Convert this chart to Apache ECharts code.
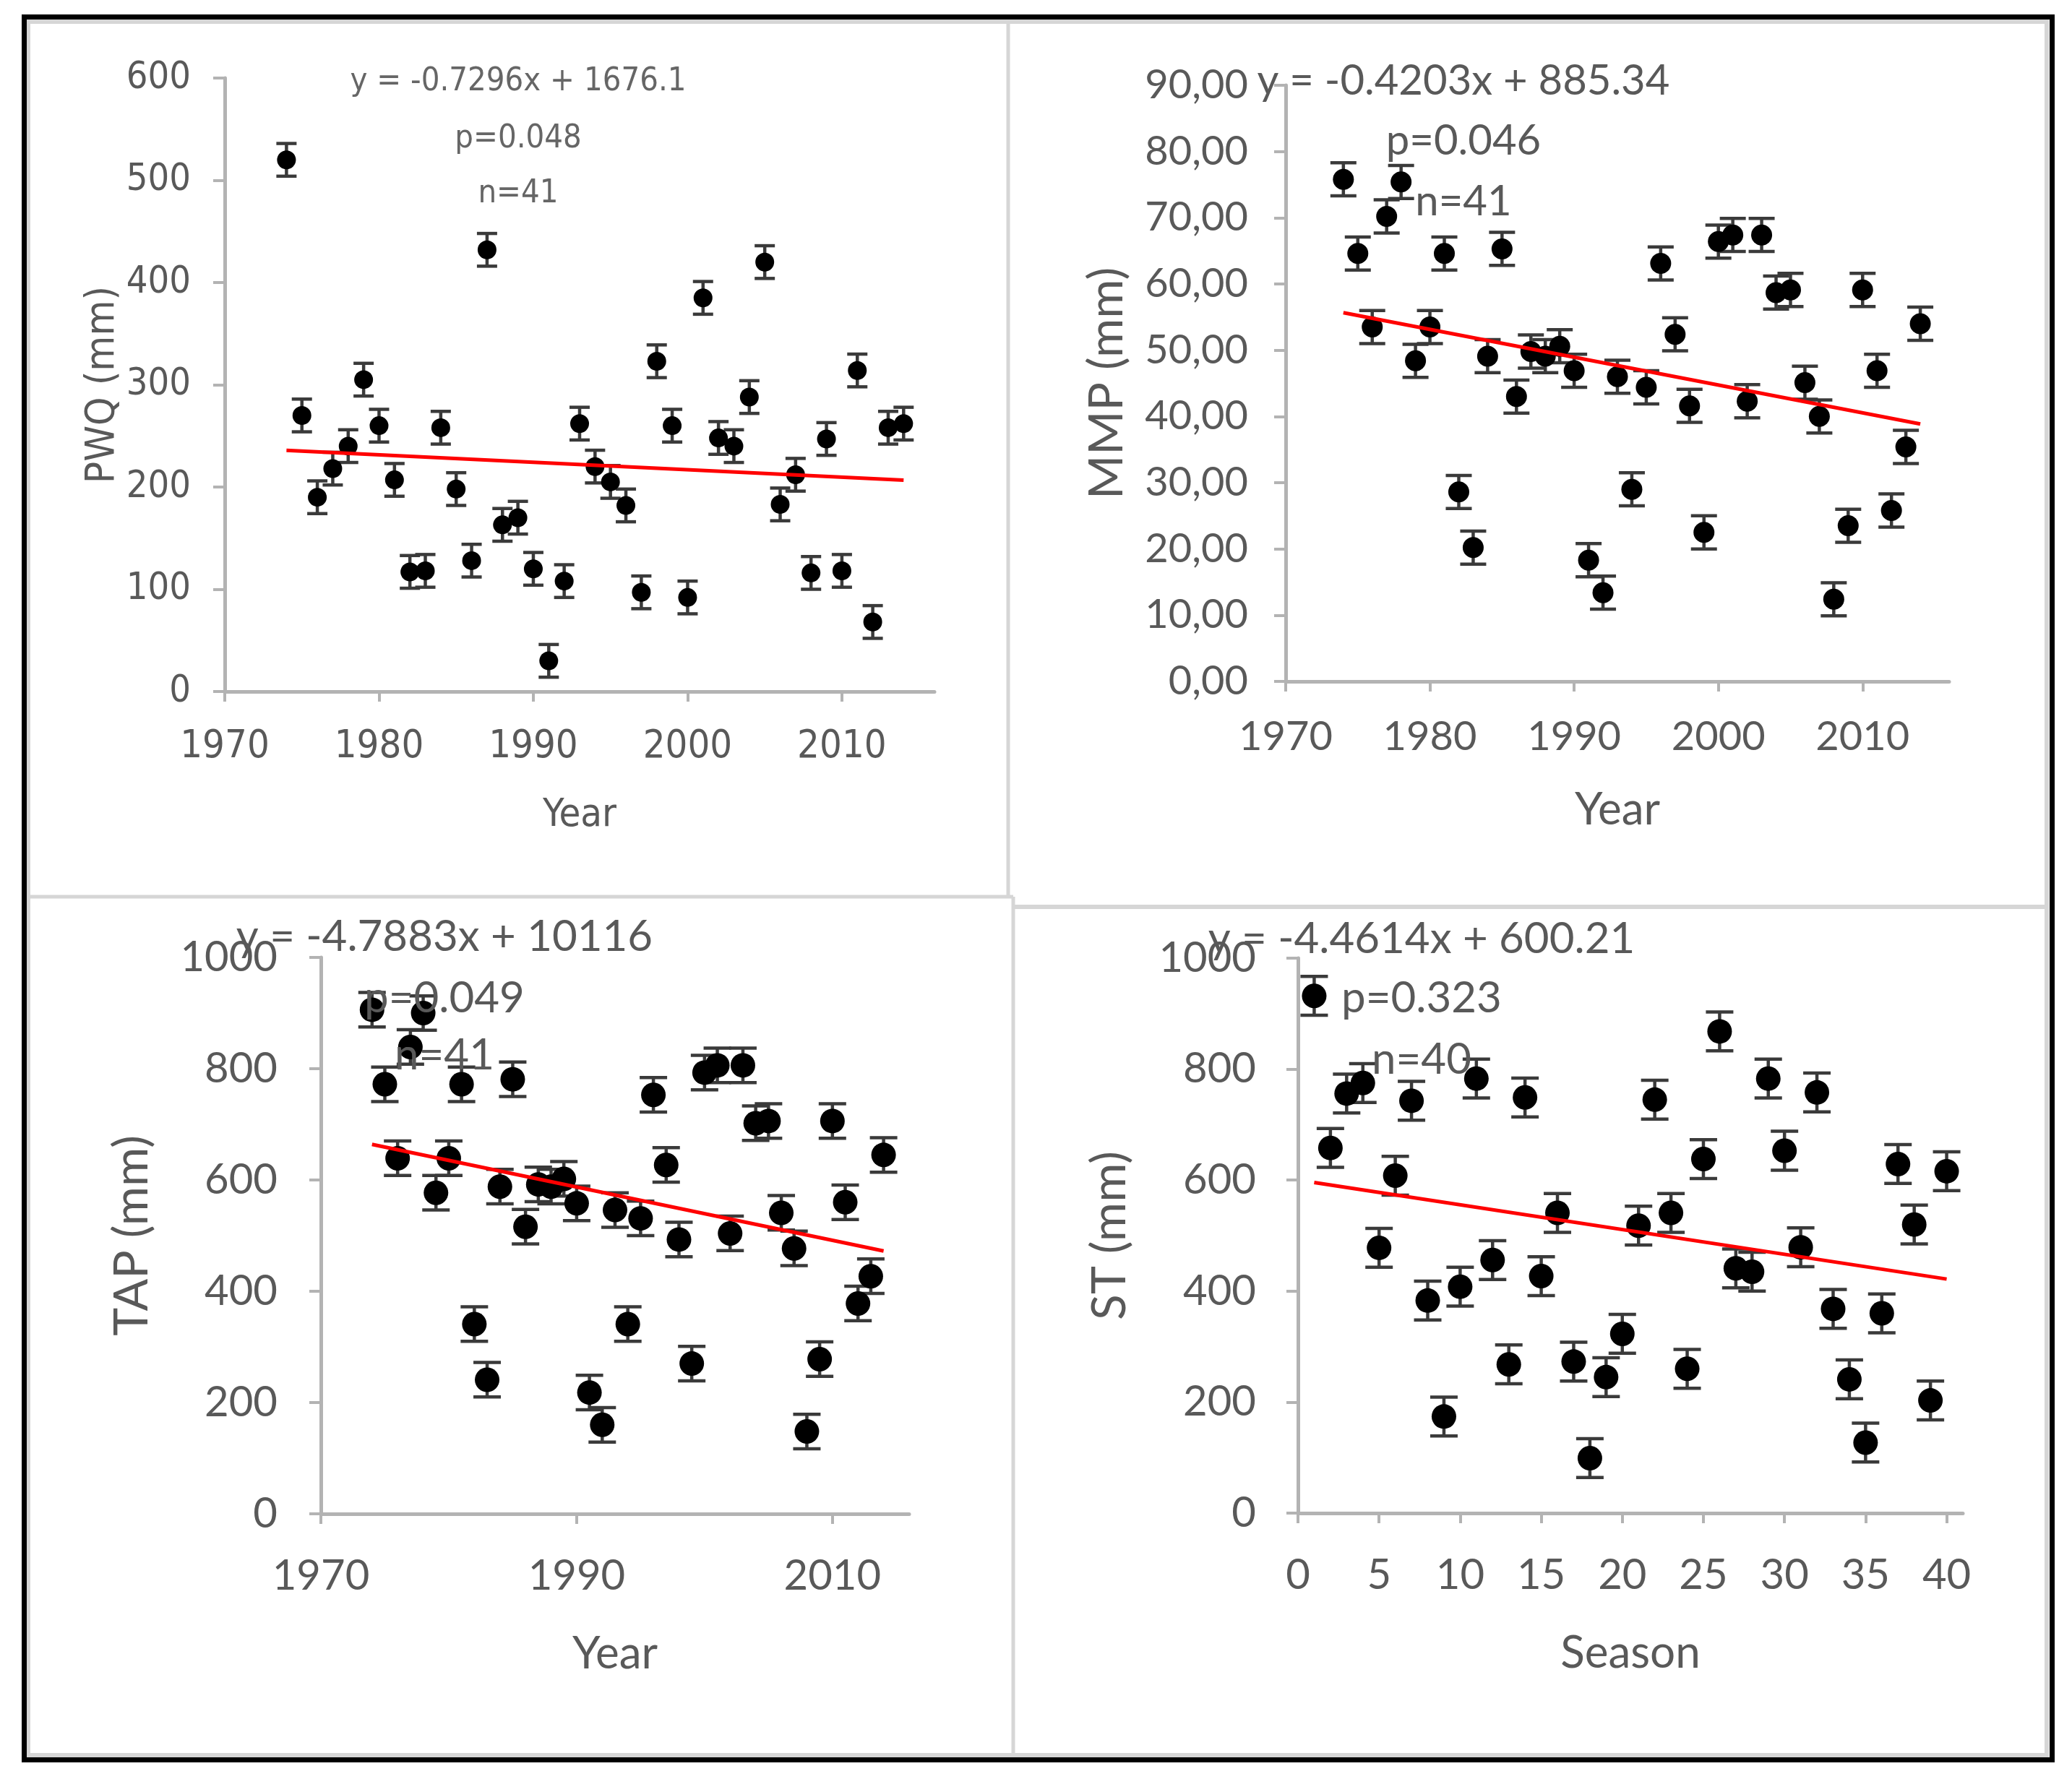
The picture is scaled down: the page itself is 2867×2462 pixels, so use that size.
<!DOCTYPE html>
<html>
<head>
<meta charset="utf-8">
<script src="https://cdn.jsdelivr.net/npm/echarts@6/dist/echarts.min.js"></script>
<style>
  html, body { margin: 0; padding: 0; background: #fff; }
  #main { width: 2867px; height: 2462px; }
</style>
</head>
<body>
<div id="main"></div>
<script>
// x values
const years = [1974, 1975, 1976, 1977, 1978, 1979, 1980, 1981, 1982, 1983, 1984, 1985, 1986, 1987,
  1988, 1989, 1990, 1991, 1992, 1993, 1994, 1995, 1996, 1997, 1998, 1999, 2000, 2001, 2002, 2003,
  2004, 2005, 2006, 2007, 2008, 2009, 2010, 2011, 2012, 2013, 2014];
const seasons = [1, 2, 3, 4, 5, 6, 7, 8, 9, 10, 11, 12, 13, 14, 15, 16, 17, 18, 19, 20,
  21, 22, 23, 24, 25, 26, 27, 28, 29, 30, 31, 32, 33, 34, 35, 36, 37, 38, 39, 40];

// series values
const pwq = [520, 270, 190, 218, 240, 305, 260, 207, 117, 118, 258, 198, 128, 432, 163, 170, 120, 30,
  108, 262, 220, 205, 182, 97, 323, 260, 92, 385, 248, 240, 288, 420, 183, 212, 116, 247, 118, 314,
  68, 258, 262];
const mmp = [75.8, 64.6, 53.5, 70.2, 75.4, 48.4, 53.5, 64.6, 28.6, 20.2, 49.1, 65.3, 43.0, 49.8, 49.1,
  50.6, 46.9, 18.3, 13.4, 46.0, 29.0, 44.4, 63.1, 52.4, 41.6, 22.5, 66.4, 67.4, 42.3, 67.4, 58.7,
  59.1, 45.1, 40.0, 12.4, 23.5, 59.1, 46.9, 25.8, 35.4, 54.0];
const tap = [906, 772, 639, 839, 900, 577, 639, 772, 341, 241, 588, 781, 516, 592, 588, 602, 558, 218,
  160, 546, 341, 531, 753, 627, 493, 270, 793, 806, 504, 806, 702, 706, 541, 477, 148, 278, 706,
  560, 378, 427, 645];
const st = [932, 658, 756, 775, 478, 608, 743, 383, 174, 408, 783, 456, 268, 749, 427, 541, 273, 99,
  245, 323, 518, 745, 541, 260, 638, 868, 441, 435, 783, 653, 479, 758, 368, 241, 127, 360, 629,
  520, 203, 616];

// error bar half-lengths
const errPwq = 16, errMmp = 2.5, errTap = 31, errSt = 35;

// trend line ends
const trendPwq = [[1974, 235.9], [2014, 206.7]];
const trendMmp = [[1974, 55.67], [2014, 38.86]];
const trendTap = [[1974, 663.9], [2014, 472.4]];
const trendSt = [[1, 595.7], [40, 421.7]];

// tick labels
const yearTicks10 = [1970, 1980, 1990, 2000, 2010];
const yearTicks20 = [1970, 1990, 2010];
const seasonTicks = [0, 5, 10, 15, 20, 25, 30, 35, 40];
const pwqTicks = [0, 100, 200, 300, 400, 500, 600];
const mmpTicks = [0, 10, 20, 30, 40, 50, 60, 70, 80, 90];
const mmTicks = [0, 200, 400, 600, 800, 1000];

// annotation texts
const notesPwq = ['y = -0.7296x + 1676.1', 'p=0.048', 'n=41'];
const notesMmp = ['y = -0.4203x + 885.34', 'p=0.046', 'n=41'];
const notesTap = ['y = -4.7883x + 10116', 'p=0.049', 'n=41'];
const notesSt = ['y = -4.4614x + 600.21', 'p=0.323', 'n=40'];

const NARROW = '"Liberation Sans Narrow", "DejaVu Sans Condensed", "Liberation Sans", sans-serif';
const CAL = 'Lato, "Open Sans", sans-serif';
const TXT = '#595959';
const AXIS = '#b3b3b3';

const chart = echarts.init(document.getElementById('main'));

function pairs(xs, ys) { return xs.map((x, i) => [x, ys[i]]); }
function bars(xs, ys, e) { return xs.map((x, i) => [x, ys[i] - e, ys[i] + e]); }
const plain = v => String(v);

function errRender(capHalf) {
  return function (params, api) {
    const x = api.value(0);
    const lo = api.coord([x, api.value(1)]);
    const hi = api.coord([x, api.value(2)]);
    const s = { stroke: '#3a3a3a', lineWidth: 4.5 };
    return {
      type: 'group',
      children: [
        { type: 'line', shape: { x1: lo[0], y1: lo[1], x2: hi[0], y2: hi[1] }, style: s },
        { type: 'line', shape: { x1: lo[0] - capHalf, y1: lo[1], x2: lo[0] + capHalf, y2: lo[1] }, style: s },
        { type: 'line', shape: { x1: hi[0] - capHalf, y1: hi[1], x2: hi[0] + capHalf, y2: hi[1] }, style: s }
      ]
    };
  };
}

function xAx(idx, min, max, ticks, font, size, margin, name, nameSize, nameGap) {
  return {
    type: 'value', gridIndex: idx, min: min, max: max,
    axisLine: { lineStyle: { color: AXIS, width: 5 } },
    axisTick: { show: true, length: 14, lineStyle: { color: AXIS, width: 4 }, customValues: ticks },
    axisLabel: { color: TXT, fontFamily: font, fontSize: size, margin: margin, customValues: ticks, formatter: plain },
    splitLine: { show: false },
    name: name, nameLocation: 'middle', nameGap: nameGap,
    nameTextStyle: { color: TXT, fontFamily: font, fontSize: nameSize }
  };
}

function yAx(idx, min, max, ticks, font, size, margin, name, nameFont, nameSize, nameGap, fmt) {
  return {
    type: 'value', gridIndex: idx, min: min, max: max,
    axisLine: { show: true, lineStyle: { color: AXIS, width: 5 } },
    axisTick: { show: true, length: 16, lineStyle: { color: AXIS, width: 4 }, customValues: ticks },
    axisLabel: { color: TXT, fontFamily: font, fontSize: size, margin: margin, customValues: ticks, formatter: fmt || plain },
    splitLine: { show: false },
    name: name, nameLocation: 'middle', nameGap: nameGap,
    nameTextStyle: { color: TXT, fontFamily: nameFont, fontSize: nameSize }
  };
}

function panelSeries(idx, xs, ys, err, cap, sym, trend) {
  return [
    { type: 'custom', xAxisIndex: idx, yAxisIndex: idx, renderItem: errRender(cap),
      encode: { x: 0, y: [1, 2] }, data: bars(xs, ys, err), z: 2 },
    { type: 'scatter', xAxisIndex: idx, yAxisIndex: idx, data: pairs(xs, ys),
      symbol: 'circle', symbolSize: sym, itemStyle: { color: '#000', opacity: 1 }, z: 3 },
    { type: 'line', xAxisIndex: idx, yAxisIndex: idx, data: trend, symbol: 'none',
      lineStyle: { color: '#ff0000', width: 5 }, z: 4, silent: true }
  ];
}

function notes(lines, cx, ys, font, size, color) {
  return lines.map((t, i) => ({
    type: 'text', x: cx, y: ys[i], z: 10,
    style: { text: t, fill: color, font: size + 'px ' + font, textAlign: 'center', textVerticalAlign: 'middle' }
  }));
}

const frame = [
  { type: 'rect', shape: { x: 39, y: 30, width: 2793, height: 2399 }, style: { fill: '#fff', stroke: '#d6d6d6', lineWidth: 6 }, z: -10 },
  { type: 'line', shape: { x1: 1395, y1: 30, x2: 1395, y2: 1241 }, style: { stroke: '#d6d6d6', lineWidth: 5 }, z: -9 },
  { type: 'line', shape: { x1: 39, y1: 1241, x2: 1402, y2: 1241 }, style: { stroke: '#d6d6d6', lineWidth: 5 }, z: -9 },
  { type: 'line', shape: { x1: 1402, y1: 1255, x2: 2832, y2: 1255 }, style: { stroke: '#d6d6d6', lineWidth: 6 }, z: -9 },
  { type: 'line', shape: { x1: 1402, y1: 1241, x2: 1402, y2: 2429 }, style: { stroke: '#d6d6d6', lineWidth: 5 }, z: -9 },
  { type: 'rect', shape: { x: 33.5, y: 23.5, width: 2806, height: 2412 }, style: { fill: 'none', stroke: '#000', lineWidth: 7 }, z: -8 }
];

const option = {
  animation: false,
  backgroundColor: '#fff',
  grid: [
    { left: 311, top: 108, width: 982, height: 849 },
    { left: 1779, top: 118, width: 918, height: 825 },
    { left: 444, top: 1325, width: 814, height: 770 },
    { left: 1796, top: 1326, width: 920, height: 768 }
  ],
  xAxis: [
    xAx(0, 1970, 2016, yearTicks10, NARROW, 54, 50, 'Year', 54, 145),
    xAx(1, 1970, 2016, yearTicks10, CAL, 56, 49, 'Year', 62, 147),
    xAx(2, 1970, 2016, yearTicks20, CAL, 58, 57, 'Year', 62, 163),
    xAx(3, 0, 41, seasonTicks, CAL, 58, 57, 'Season', 62, 163)
  ],
  yAxis: [
    yAx(0, 0, 600, pwqTicks, NARROW, 52, 47, 'PWQ (mm)', NARROW, 56, 140),
    yAx(1, 0, 90, mmpTicks, CAL, 56, 52, 'MMP (mm)', CAL, 66, 214, v => v.toFixed(2).replace('.', ',')),
    yAx(2, 0, 1000, mmTicks, CAL, 58, 60, 'TAP (mm)', CAL, 66, 228),
    yAx(3, 0, 1000, mmTicks, CAL, 58, 58, 'ST (mm)', CAL, 66, 227)
  ],
  series: [].concat(
    panelSeries(0, years, pwq, errPwq, 14, 26, trendPwq),
    panelSeries(1, years, mmp, errMmp, 18, 29, trendMmp),
    panelSeries(2, years, tap, errTap, 19, 34, trendTap),
    panelSeries(3, seasons, st, errSt, 19, 34, trendSt)
  ),
  graphic: [].concat(
    frame,
    notes(notesPwq, 717, [113, 192, 268], NARROW, 45, '#666'),
    notes(notesMmp, 2025, [112, 195, 279], CAL, 58, TXT),
    notes(notesTap, 615, [1297, 1382, 1461], CAL, 60, TXT),
    notes(notesSt, 1967, [1300, 1382, 1467], CAL, 60, TXT)
  )
};

chart.setOption(option);
window.addEventListener('resize', () => chart.resize());
</script>
</body>
</html>
